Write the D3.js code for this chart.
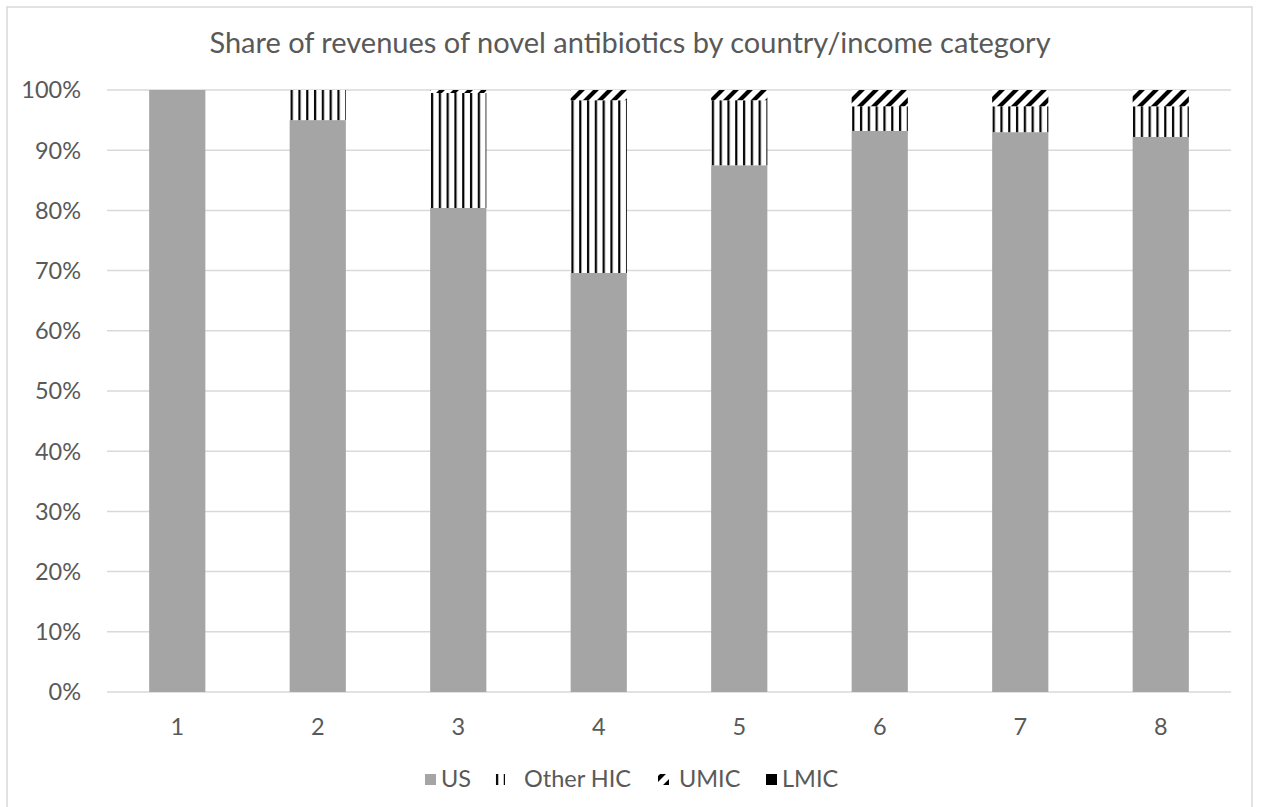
<html>
  <head>
    <style>
      body { margin: 0; background: #fff; }
      text { font-family: Lato, "Open Sans", sans-serif; fill: #595959; }
    </style>
  </head>
  <body>
    <svg id="container" height="807" width="1261"></svg>
  </body>
  <script src="https://cdn.jsdelivr.net/npm/d3@7"></script>
  <script>
    const categories = ["1", "2", "3", "4", "5", "6", "7", "8"];
    const seriesNames = ["US", "Other HIC", "UMIC", "LMIC"];
    const us       = [100, 95.0, 80.4, 69.6, 87.5, 93.2, 93.0, 92.2];
    const otherHic = [0,   5.0,  19.1, 28.7, 10.8, 4.1,  4.3,  5.1];
    const umic     = [0,   0,    0.5,  1.7,  1.7,  2.7,  2.7,  2.7];
    const lmic     = [0,   0,    0,    0,    0,    0,    0,    0];
    const yTicks = [0, 10, 20, 30, 40, 50, 60, 70, 80, 90, 100];

    const svg = d3.select("#container");

    // outer chart border
    svg.append("rect")
      .attr("x", 7).attr("y", 7)
      .attr("width", 1245).attr("height", 810)
      .attr("fill", "white").attr("stroke", "#d9d9d9").attr("stroke-width", 1.5);

    const defs = svg.append("defs");
    const vert = defs.append("pattern")
      .attr("id", "vert").attr("patternUnits", "userSpaceOnUse")
      .attr("width", 7.8).attr("height", 10);
    vert.append("rect").attr("width", 7.8).attr("height", 10).attr("fill", "white");
    vert.append("rect").attr("x", 2).attr("width", 2.2).attr("height", 10).attr("fill", "black");

    const diag = defs.append("pattern")
      .attr("id", "diag").attr("patternUnits", "userSpaceOnUse")
      .attr("width", 14).attr("height", 14);
    diag.append("rect").attr("width", 14).attr("height", 14).attr("fill", "white");
    diag.append("path").attr("d", "M-2,16 L16,-2 M-9,9 L9,-9 M5,23 L23,5")
      .attr("stroke", "black").attr("stroke-width", 4.2);

    const fills = ["#a5a5a5", "url(#vert)", "url(#diag)", "#000000"];

    const x = d3.scaleBand().domain(categories).range([107, 1231]).paddingInner(0.6).paddingOuter(0.3);
    const y = d3.scaleLinear().domain([0, 100]).range([692, 90]);

    // gridlines
    svg.append("g").selectAll("line").data(yTicks).enter().append("line")
      .attr("x1", 107).attr("x2", 1231)
      .attr("y1", d => y(d)).attr("y2", d => y(d))
      .attr("stroke", "#d9d9d9").attr("stroke-width", 1.5);

    const table = categories.map((c, i) => ({ cat: c, US: us[i], "Other HIC": otherHic[i], UMIC: umic[i], LMIC: lmic[i] }));
    const stacked = d3.stack().keys(seriesNames)(table);

    svg.append("g").selectAll("g").data(stacked).enter().append("g")
      .attr("fill", (d, i) => fills[i])
      .selectAll("rect").data(d => d).enter().append("rect")
      .attr("x", d => x(d.data.cat))
      .attr("width", x.bandwidth())
      .attr("y", d => y(d[1]))
      .attr("height", d => y(d[0]) - y(d[1]));

    // y labels
    svg.append("g").selectAll("text").data(yTicks).enter().append("text")
      .attr("x", 81).attr("y", d => y(d))
      .attr("dy", "0.36em").attr("text-anchor", "end")
      .attr("font-size", 23.5)
      .text(d => d + "%");

    // x labels
    svg.append("g").selectAll("text").data(categories).enter().append("text")
      .attr("x", d => x(d) + x.bandwidth() / 2).attr("y", 727)
      .attr("dy", "0.36em")
      .attr("text-anchor", "middle").attr("font-size", 23.5)
      .text(d => d);

    // title
    svg.append("text")
      .attr("x", 630).attr("y", 43).attr("dy", "0.36em").attr("text-anchor", "middle")
      .attr("font-size", 29)
      .text("Share of revenues of novel antibiotics by country/income category");

    // legend
    const legendX = [425, 494, 658, 766];
    const legendGap = [16, 30, 21, 16];
    const legend = svg.append("g").selectAll("g").data(seriesNames).enter().append("g")
      .attr("transform", (d, i) => `translate(${legendX[i]},779)`);
    legend.append("rect")
      .attr("x", 0).attr("y", -5).attr("width", 11).attr("height", 11)
      .attr("fill", (d, i) => fills[i]);
    legend.append("text")
      .attr("x", (d, i) => legendGap[i]).attr("y", 0).attr("dy", "0.36em")
      .attr("font-size", 23.5)
      .text(d => d);
  </script>
</html>
